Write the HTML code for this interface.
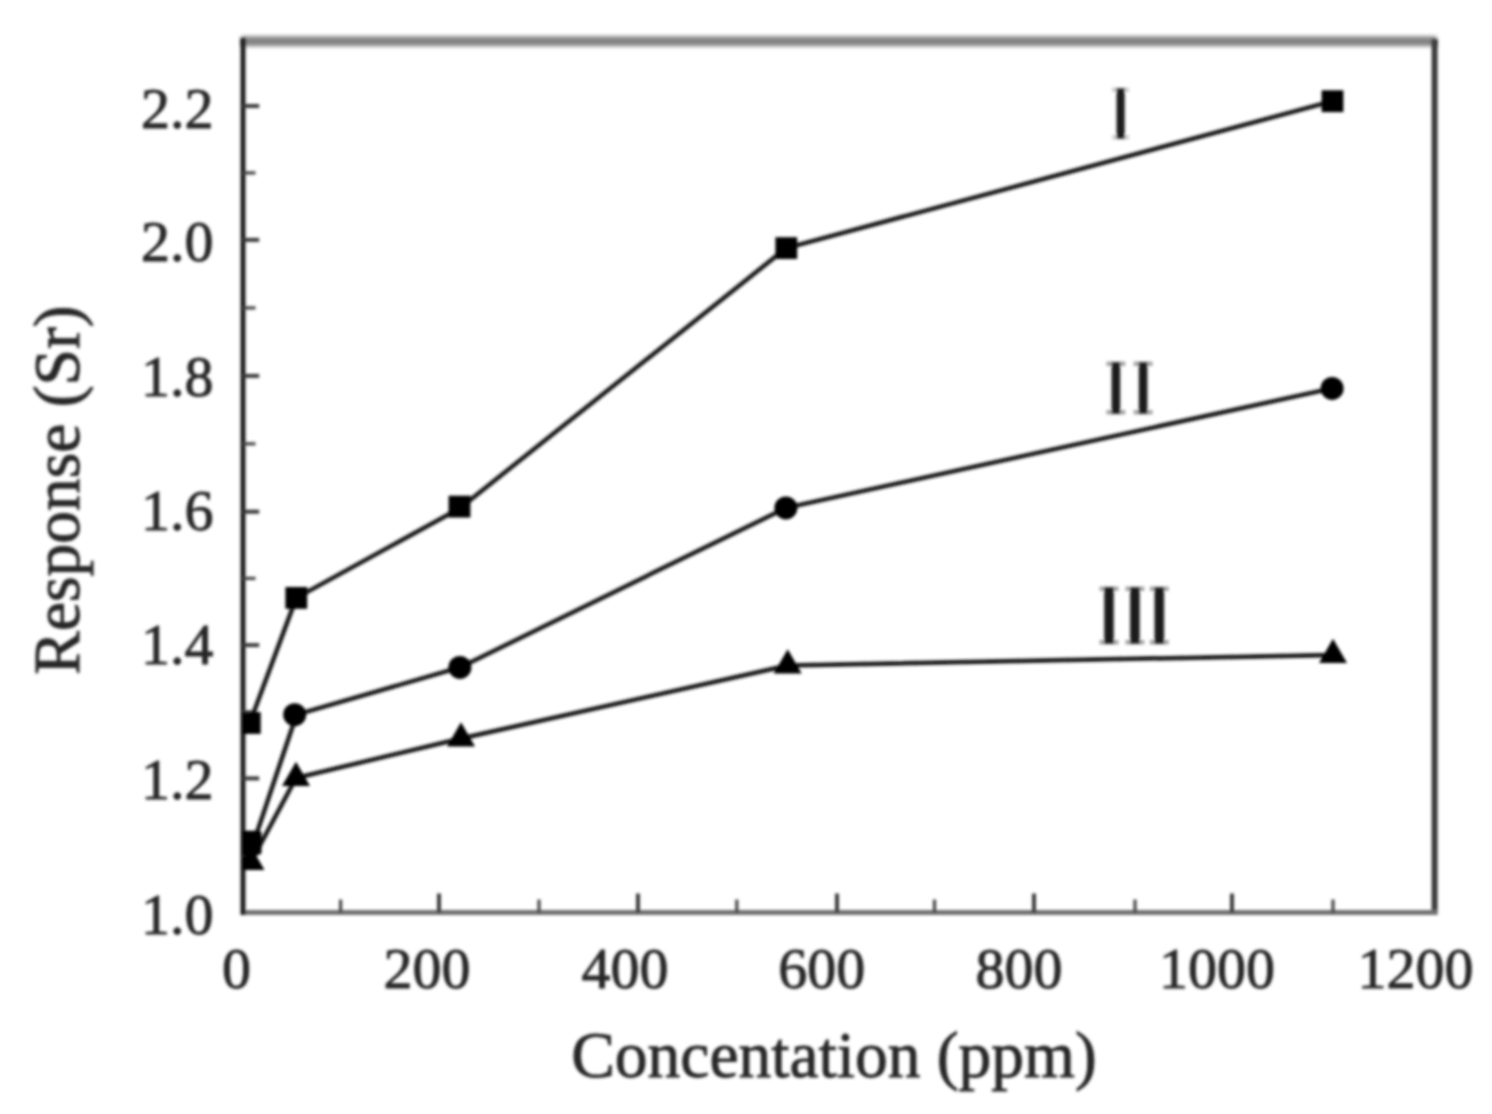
<!DOCTYPE html><html><head><meta charset="utf-8"><title>chart</title><style>html,body{margin:0;padding:0;background:#fff;overflow:hidden;}svg{display:block;}text{font-family:"Liberation Serif",serif;}</style></head><body>
<svg width="1492" height="1114" viewBox="0 0 1492 1114">
<defs><filter id="bl" filterUnits="userSpaceOnUse" x="0" y="0" width="1492" height="1114"><feGaussianBlur stdDeviation="1.6"/></filter><clipPath id="pa"><rect x="242.5" y="30" width="1200" height="890"/></clipPath><filter id="bl2" filterUnits="userSpaceOnUse" x="200" y="0" width="1292" height="90"><feGaussianBlur stdDeviation="2.0"/></filter></defs>
<rect width="1492" height="1114" fill="#fff"/>
<line x1="241.0" y1="41.2" x2="1436.6" y2="41.2" stroke="#848484" stroke-width="10" filter="url(#bl2)"/>
<g filter="url(#bl)">
<line x1="1434.6" y1="39.2" x2="1434.6" y2="915.1" stroke="#3a3a3a" stroke-width="6"/>
<line x1="241.0" y1="912.6" x2="1437.1" y2="912.6" stroke="#707070" stroke-width="5"/>
<line x1="243.0" y1="38.2" x2="243.0" y2="915.1" stroke="#1e1e1e" stroke-width="5"/>
<line x1="243.0" y1="778.4" x2="259.2" y2="778.4" stroke="#3a3a3a" stroke-width="4"/>
<line x1="243.0" y1="645.1" x2="259.2" y2="645.1" stroke="#3a3a3a" stroke-width="4"/>
<line x1="243.0" y1="511.7" x2="259.2" y2="511.7" stroke="#3a3a3a" stroke-width="4"/>
<line x1="243.0" y1="375.9" x2="259.2" y2="375.9" stroke="#3a3a3a" stroke-width="4"/>
<line x1="243.0" y1="239.9" x2="259.2" y2="239.9" stroke="#3a3a3a" stroke-width="4"/>
<line x1="243.0" y1="106.0" x2="259.2" y2="106.0" stroke="#3a3a3a" stroke-width="4"/>
<line x1="243.0" y1="845.3" x2="255.5" y2="845.3" stroke="#444" stroke-width="3.2"/>
<line x1="243.0" y1="711.8" x2="255.5" y2="711.8" stroke="#444" stroke-width="3.2"/>
<line x1="243.0" y1="578.4" x2="255.5" y2="578.4" stroke="#444" stroke-width="3.2"/>
<line x1="243.0" y1="443.8" x2="255.5" y2="443.8" stroke="#444" stroke-width="3.2"/>
<line x1="243.0" y1="307.9" x2="255.5" y2="307.9" stroke="#444" stroke-width="3.2"/>
<line x1="243.0" y1="172.9" x2="255.5" y2="172.9" stroke="#444" stroke-width="3.2"/>
<line x1="439.0" y1="912.6" x2="439.0" y2="893.5" stroke="#3a3a3a" stroke-width="4"/>
<line x1="638.0" y1="912.6" x2="638.0" y2="893.5" stroke="#3a3a3a" stroke-width="4"/>
<line x1="837.0" y1="912.6" x2="837.0" y2="893.5" stroke="#3a3a3a" stroke-width="4"/>
<line x1="1034.0" y1="912.6" x2="1034.0" y2="893.5" stroke="#3a3a3a" stroke-width="4"/>
<line x1="1232.0" y1="912.6" x2="1232.0" y2="893.5" stroke="#3a3a3a" stroke-width="4"/>
<line x1="340.6" y1="912.6" x2="340.6" y2="899.5" stroke="#444" stroke-width="3.2"/>
<line x1="539.0" y1="912.6" x2="539.0" y2="899.5" stroke="#444" stroke-width="3.2"/>
<line x1="736.8" y1="912.6" x2="736.8" y2="899.5" stroke="#444" stroke-width="3.2"/>
<line x1="934.5" y1="912.6" x2="934.5" y2="899.5" stroke="#444" stroke-width="3.2"/>
<line x1="1135.0" y1="912.6" x2="1135.0" y2="899.5" stroke="#444" stroke-width="3.2"/>
<line x1="1333.0" y1="912.6" x2="1333.0" y2="899.5" stroke="#444" stroke-width="3.2"/>
<text x="213.5" y="128.2" font-size="58" text-anchor="end" fill="#262626" stroke="#262626" stroke-width="0.9">2.2</text>
<text x="213.5" y="261.3" font-size="58" text-anchor="end" fill="#262626" stroke="#262626" stroke-width="0.9">2.0</text>
<text x="213.5" y="396.0" font-size="58" text-anchor="end" fill="#262626" stroke="#262626" stroke-width="0.9">1.8</text>
<text x="213.5" y="529.5" font-size="58" text-anchor="end" fill="#262626" stroke="#262626" stroke-width="0.9">1.6</text>
<text x="213.5" y="663.5" font-size="58" text-anchor="end" fill="#262626" stroke="#262626" stroke-width="0.9">1.4</text>
<text x="213.5" y="798.7" font-size="58" text-anchor="end" fill="#262626" stroke="#262626" stroke-width="0.9">1.2</text>
<text x="213.5" y="934.0" font-size="58" text-anchor="end" fill="#262626" stroke="#262626" stroke-width="0.9">1.0</text>
<text x="236.6" y="988" font-size="58" text-anchor="middle" fill="#262626" stroke="#262626" stroke-width="0.9">0</text>
<text x="427" y="988" font-size="58" text-anchor="middle" fill="#262626" stroke="#262626" stroke-width="0.9">200</text>
<text x="624.9" y="988" font-size="58" text-anchor="middle" fill="#262626" stroke="#262626" stroke-width="0.9">400</text>
<text x="821.7" y="988" font-size="58" text-anchor="middle" fill="#262626" stroke="#262626" stroke-width="0.9">600</text>
<text x="1019" y="988" font-size="58" text-anchor="middle" fill="#262626" stroke="#262626" stroke-width="0.9">800</text>
<text x="1217" y="988" font-size="58" text-anchor="middle" fill="#262626" stroke="#262626" stroke-width="0.9">1000</text>
<text x="1415.5" y="988" font-size="58" text-anchor="middle" fill="#262626" stroke="#262626" stroke-width="0.9">1200</text>
<text x="834" y="1076.5" font-size="65.5" text-anchor="middle" fill="#262626" stroke="#262626" stroke-width="0.9">Concentation (ppm)</text>
<text transform="translate(79,490) rotate(-90)" x="0" y="0" font-size="65.5" text-anchor="middle" fill="#262626" stroke="#262626" stroke-width="0.9">Response (Sr)</text>
<rect x="1112.1" y="87.5" width="17" height="4.6" fill="#cfcfcf"/><rect x="1112.1" y="134.9" width="17" height="4.6" fill="#cfcfcf"/><rect x="1116.5" y="88.0" width="8.2" height="51.0" fill="#1e1e1e"/>
<rect x="1106.4" y="361.5" width="19.0" height="4.6" fill="#a8a8a8"/><rect x="1106.4" y="409.9" width="19.0" height="4.6" fill="#a8a8a8"/><rect x="1111.6" y="362.0" width="8.6" height="52.0" fill="#1e1e1e"/><rect x="1133.6" y="361.5" width="19.0" height="4.6" fill="#a8a8a8"/><rect x="1133.6" y="409.9" width="19.0" height="4.6" fill="#a8a8a8"/><rect x="1138.8" y="362.0" width="8.6" height="52.0" fill="#1e1e1e"/>
<rect x="1099.5" y="586.5" width="19.0" height="4.6" fill="#a8a8a8"/><rect x="1099.5" y="639.9" width="19.0" height="4.6" fill="#a8a8a8"/><rect x="1104.2" y="587.0" width="9.6" height="57.0" fill="#1e1e1e"/><rect x="1125.4" y="586.5" width="19.0" height="4.6" fill="#a8a8a8"/><rect x="1125.4" y="639.9" width="19.0" height="4.6" fill="#a8a8a8"/><rect x="1130.1" y="587.0" width="9.6" height="57.0" fill="#1e1e1e"/><rect x="1149.8" y="586.5" width="19.0" height="4.6" fill="#a8a8a8"/><rect x="1149.8" y="639.9" width="19.0" height="4.6" fill="#a8a8a8"/><rect x="1154.5" y="587.0" width="9.6" height="57.0" fill="#1e1e1e"/>
<g clip-path="url(#pa)">
<polyline points="249.8,723.0 296.3,597.9 459.5,508.5 786.3,248.1 1332.5,101.2" fill="none" stroke="#141414" stroke-width="4.5" stroke-linejoin="round"/>
<polyline points="254.0,841.5 296.5,714.7 459.9,667.4 785.9,507.9 1332.1,388.4" fill="none" stroke="#141414" stroke-width="4.5" stroke-linejoin="round"/>
<polyline points="251.0,862.0 296.0,778.0 461.0,738.5 787.7,665.5 1333.0,655.0" fill="none" stroke="#141414" stroke-width="4.5" stroke-linejoin="round"/>
<rect x="238.9" y="712.1" width="21.8" height="21.8" fill="#000"/>
<rect x="285.4" y="587.0" width="21.8" height="21.8" fill="#000"/>
<rect x="448.6" y="495.7" width="21.8" height="21.8" fill="#000"/>
<rect x="775.4" y="237.2" width="21.8" height="21.8" fill="#000"/>
<rect x="1321.6" y="90.3" width="21.8" height="21.8" fill="#000"/>
<rect x="240.5" y="830.8" width="21" height="24" rx="3" fill="#000"/>
<circle cx="294.7" cy="714.7" r="11.5" fill="#000"/>
<circle cx="459.9" cy="667.4" r="11.5" fill="#000"/>
<circle cx="785.9" cy="507.9" r="11.5" fill="#000"/>
<circle cx="1332.1" cy="388.4" r="11.5" fill="#000"/>
<polygon points="250.5,845.8 264.5,870.1 236.5,870.1" fill="#000"/>
<polygon points="296.0,761.8 310.0,786.1 282.0,786.1" fill="#000"/>
<polygon points="461.0,722.3 475.0,746.6 447.0,746.6" fill="#000"/>
<polygon points="787.7,649.3 801.7,673.6 773.7,673.6" fill="#000"/>
<polygon points="1333.0,638.8 1347.0,663.1 1319.0,663.1" fill="#000"/>
</g>
</g></svg></body></html>
